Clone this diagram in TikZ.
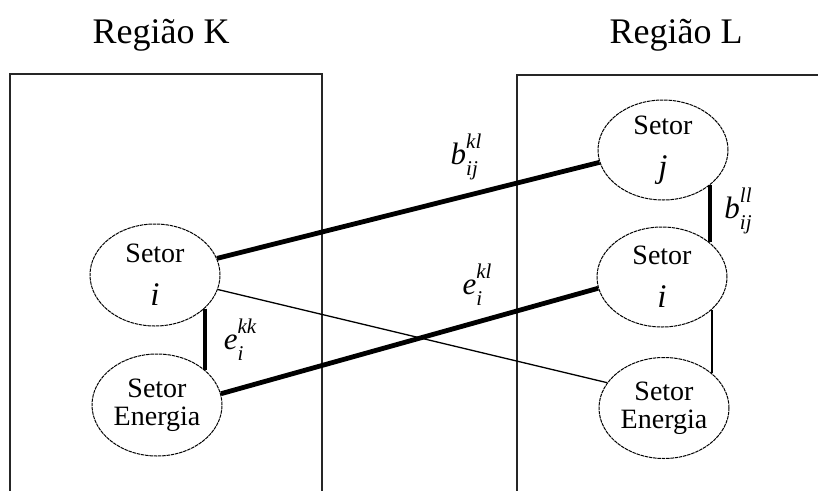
\documentclass[tikz,border=0pt]{standalone}
\usepackage{fontspec}
\setmainfont{Liberation Serif}
\usetikzlibrary{shapes.geometric}
\newcommand\scr[1]{{\fontsize{21}{21}\selectfont\itshape #1}}
\newcommand\mylab[3]{\textit{#1}\rlap{\raisebox{-11pt}{\scr{#2}}}\raisebox{16pt}{\scr{#3}}}
\begin{document}
\begin{tikzpicture}[x=1pt,y=-1pt,
  sector/.style={ellipse,draw=black,line width=1pt,dash pattern=on 3.5pt off 0.8pt,
    minimum width=130pt,minimum height=102pt,inner sep=0pt,align=center,
    font=\fontsize{28}{28}\selectfont},
  region/.style={draw=black!85,line width=1.4pt},
  title/.style={font=\fontsize{36}{36}\selectfont,anchor=base},
  lab/.style={font=\fontsize{31}{31}\selectfont,inner sep=0pt},
  thick link/.style={line width=4.8pt},
  thin link/.style={line width=1.3pt}]
\useasboundingbox (0,0) rectangle (818,490);
\draw[region] (10,495) |- (322,74) -- (322,495);
\draw[region] (517,495) |- (825,75);
\node[title] (tK) at (161,43) {Região K};
\node[title] (tL) at (676,43) {Região L};
\node[sector] (Li) at (155,275) {Setor\\[15pt]{\fontsize{33}{33}\selectfont\textit{i}}};
\node[sector] (LE) at (157,405) {Setor\\Energia};
\node[sector,minimum height=100pt] (Rj) at (663,150) {Setor\\[15pt]{\fontsize{33}{33}\selectfont\textit{j}}};
\node[sector,minimum height=100pt] (Ri) at (662,277) {Setor\\[15pt]{\fontsize{33}{33}\selectfont\textit{i}}};
\node[sector,minimum height=101pt] (RE) at (664,408) {Setor\\Energia};
\draw[thick link] (Li.15) -- (Rj.191);
\draw[thick link] (LE.10) -- (Ri.190);
\draw[thin link] (Li.-13) -- (RE.156);
\draw[line width=4pt] (Li.-34) -- (Li.-34 |- LE.36);
\draw[line width=4pt] (Rj.-37.5) -- (Rj.-37.5 |- Ri.36.3);
\draw[thin link] (Ri.-33.9) -- (Ri.-33.9 |- RE.36.6);
\node[lab] (bkl) at (466,157) {\mylab{b}{ij}{kl}};
\node[lab] (ekl) at (477,285) {\mylab{e}{i}{kl}};
\node[lab] (ekk) at (240,340) {\mylab{e}{i}{kk}};
\node[lab] (bll) at (738,211) {\mylab{b}{ij}{ll}};
\end{tikzpicture}
\end{document}
